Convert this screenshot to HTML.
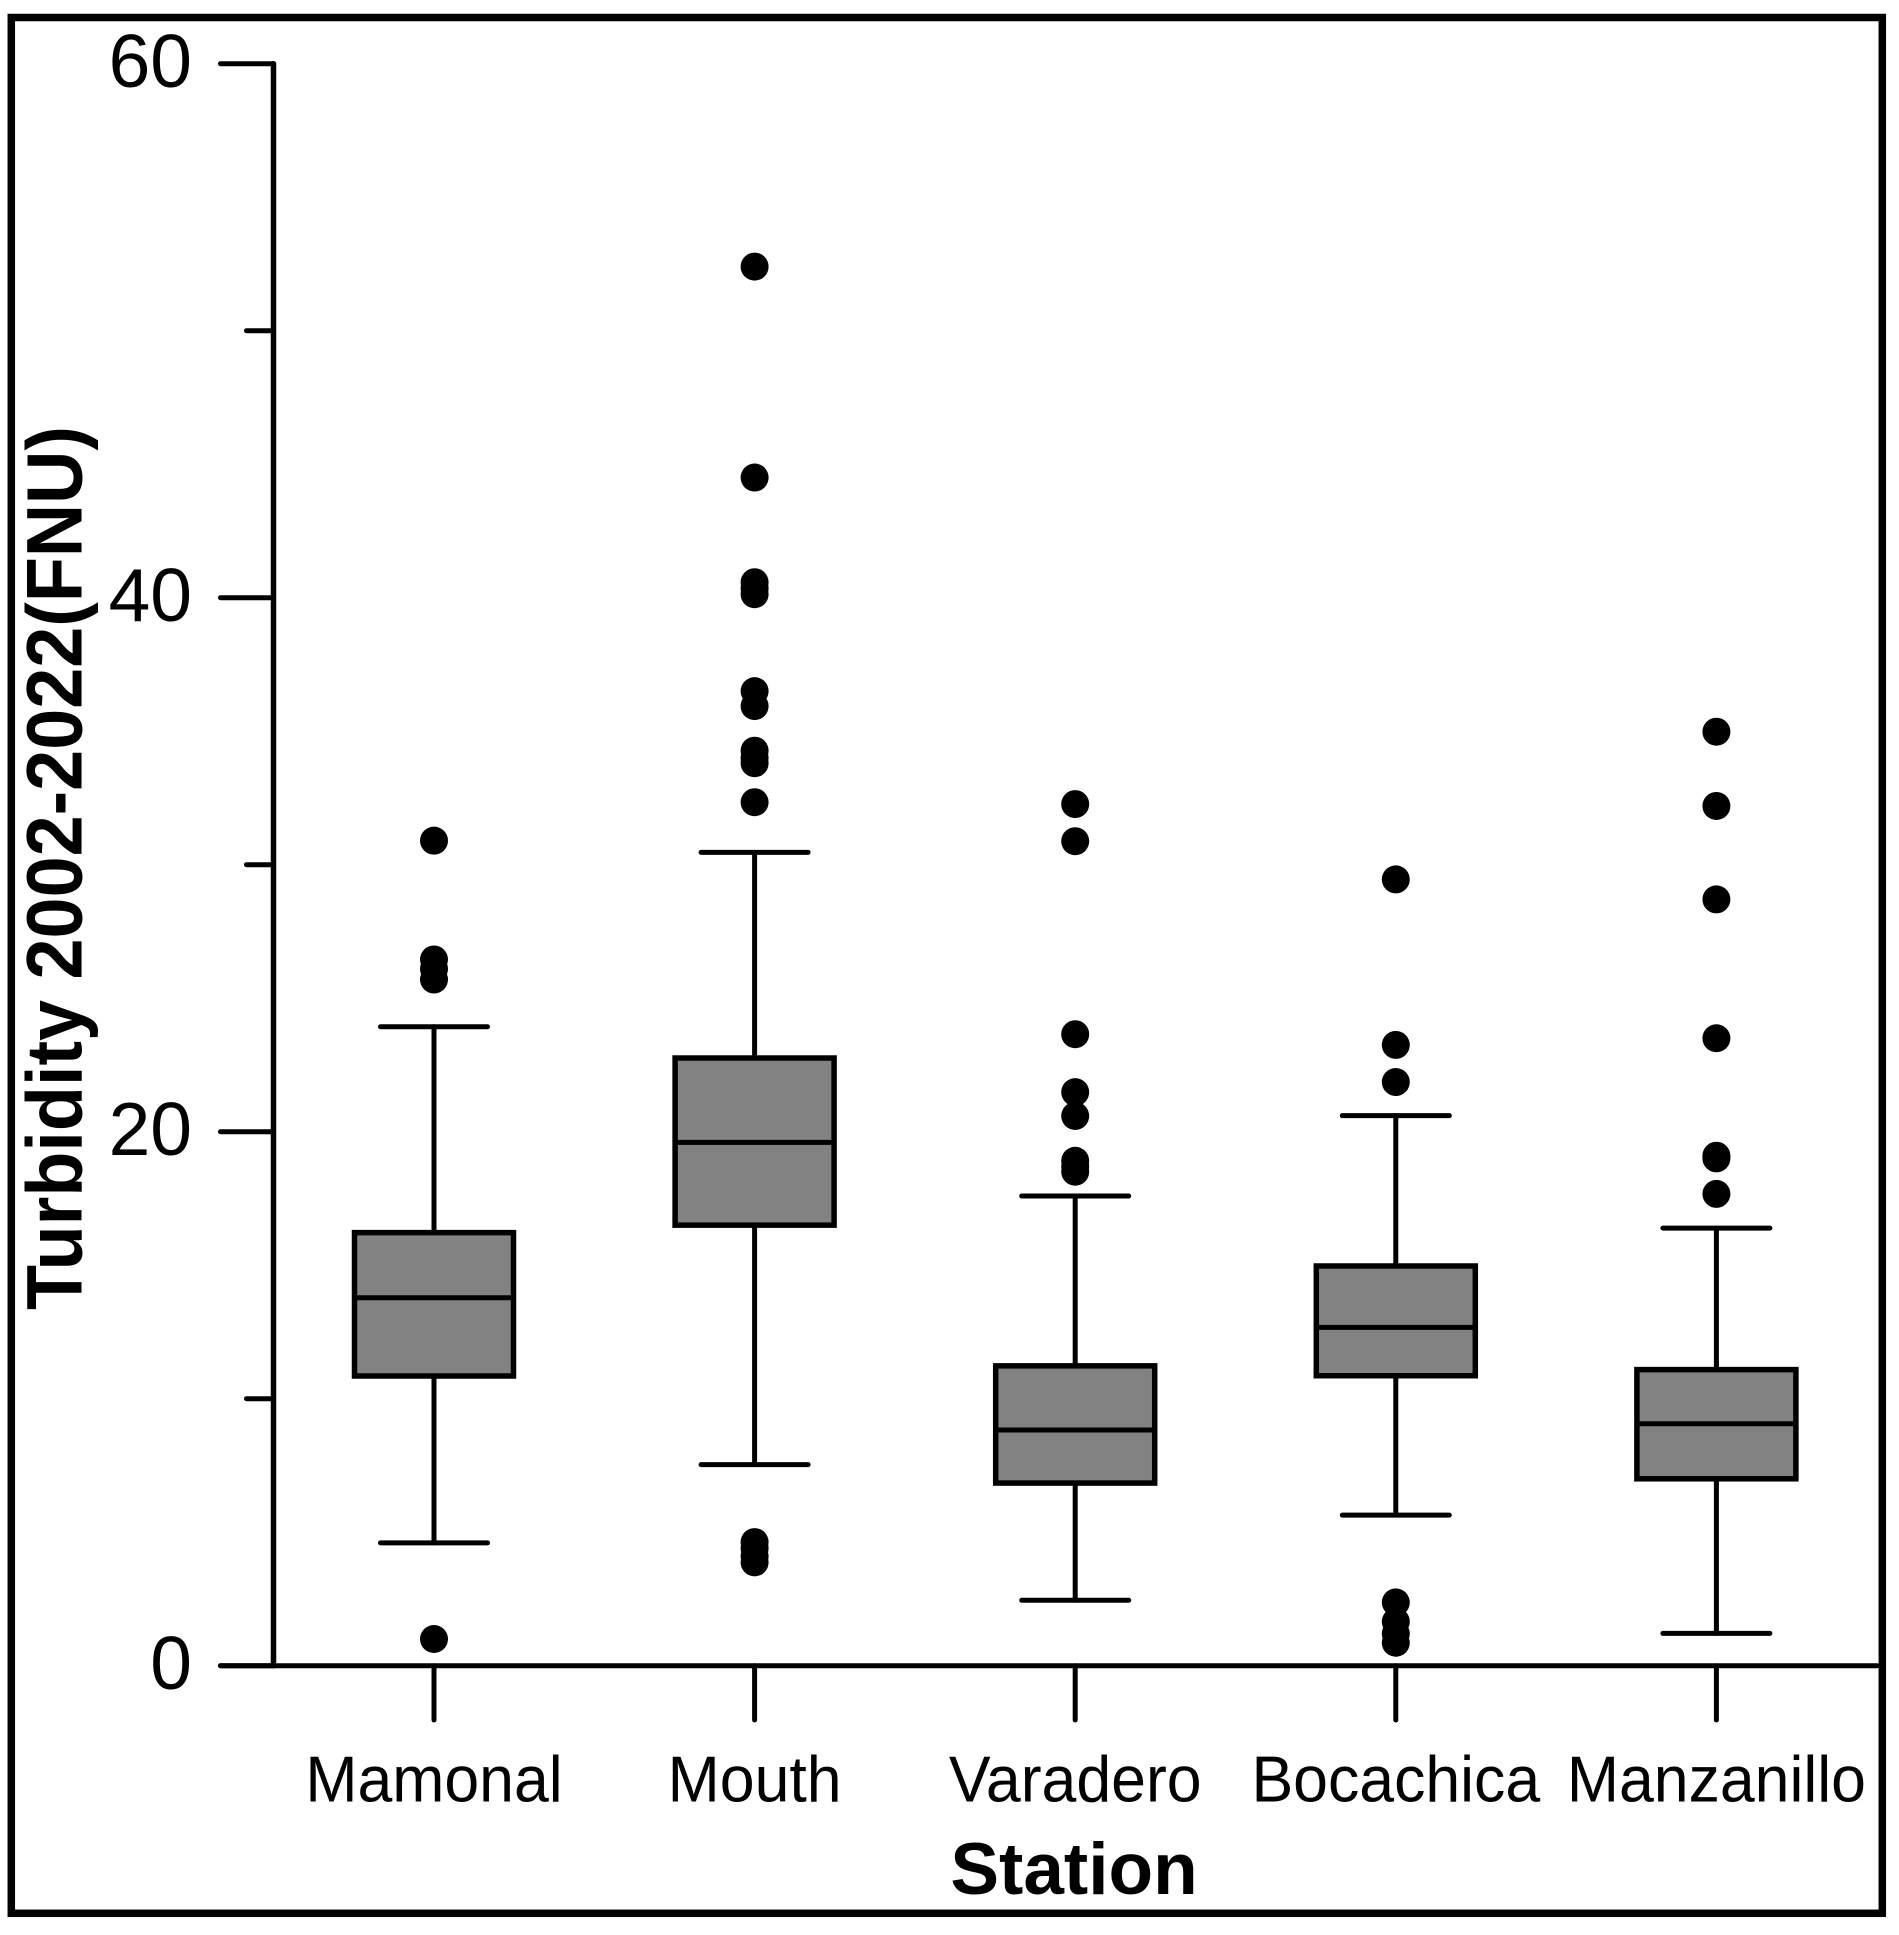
<!DOCTYPE html>
<html lang="en">
<head>
<meta charset="utf-8">
<title>Turbidity by station</title>
<style>
  html, body { margin: 0; padding: 0; background: #fff; }
  svg { display: block; font-family: "Liberation Sans", sans-serif; }
</style>
</head>
<body>
<svg id="chart" xmlns="http://www.w3.org/2000/svg" width="1899" height="1935" viewBox="0 0 1899 1935">
  <rect x="0" y="0" width="1899" height="1935" fill="#ffffff"/>
  <rect x="11.3" y="17.5" width="1871" height="1895.8" fill="none" stroke="#000" stroke-width="7.5"/>
  <g id="axes"></g>
  <g id="boxes"></g>
  <text transform="translate(81.5,868) rotate(-90)" text-anchor="middle" font-size="79" font-weight="bold" textLength="884" lengthAdjust="spacingAndGlyphs">Turbidity 2002-2022(FNU)</text>
  <text x="1074" y="1894" text-anchor="middle" font-size="73" font-weight="bold">Station</text>
</svg>
<script>
const categories = ["Mamonal", "Mouth", "Varadero", "Bocachica", "Manzanillo"];
const whiskerHigh = [23.93, 30.46, 17.59, 20.6, 16.39];
const q3Values = [16.22, 22.76, 11.23, 14.97, 11.09];
const medians = [13.78, 19.6, 8.83, 12.67, 9.06];
const q1Values = [10.85, 16.5, 6.84, 10.86, 7.0];
const whiskerLow = [4.6, 7.53, 2.45, 5.64, 1.21];
const outliersMamonal = [30.9, 26.45, 26.1, 25.7, 1.0];
const outliersMouth = [52.4, 44.5, 40.58, 40.35, 40.13, 36.5, 35.94, 34.27, 34.0, 33.8, 32.34, 4.63, 4.4, 4.1, 3.87];
const outliersVaradero = [32.27, 30.88, 23.65, 21.48, 20.59, 18.91, 18.7, 18.5];
const outliersBocachica = [29.45, 23.25, 21.86, 2.37, 1.65, 1.2, 0.86];
const outliersManzanillo = [34.98, 32.2, 28.7, 23.5, 19.1, 19.0, 17.67];
const outliers = [outliersMamonal, outliersMouth, outliersVaradero, outliersBocachica, outliersManzanillo];
const majorTicks = [0, 20, 40, 60];
const minorTicks = [10, 30, 50];

const SVGNS = "http://www.w3.org/2000/svg";
const Y0 = 1665.7, PX_PER_UNIT = 26.7;
const X0 = 434, X_STEP = 320.6;
const BOX_HALF = 79.5, CAP_HALF = 53.5;
const yScale = v => Y0 - v * PX_PER_UNIT;
const xScale = i => X0 + i * X_STEP;

function make(tag, attrs, parent) {
  const el = document.createElementNS(SVGNS, tag);
  for (const k in attrs) el.setAttribute(k, attrs[k]);
  parent.appendChild(el);
  return el;
}
function lineAttrs(x1, y1, x2, y2, w) {
  return { x1, y1, x2, y2, stroke: "#000", "stroke-width": w, "stroke-linecap": "round" };
}

const axes = document.getElementById("axes");
const boxes = document.getElementById("boxes");

const yAxis = make("line", lineAttrs(273.5, yScale(60), 273.5, yScale(0), 5.5), axes);



const xAxis = make("line", lineAttrs(220.5, yScale(0), 1877, yScale(0), 5), axes);



majorTicks.forEach(v => {
  const tick = make("line", lineAttrs(220.5, yScale(v), 273.5, yScale(v), 5), axes);
  
  
  const label = make("text", { x: 192, y: yScale(v) + 23.5, "text-anchor": "end", "font-size": 75 }, axes);
  
  
  label.textContent = String(v);
});

minorTicks.forEach(v => {
  const tick = make("line", lineAttrs(246.5, yScale(v), 273.5, yScale(v), 5), axes);
  
  
});

categories.forEach((name, i) => {
  const cx = xScale(i);

  const xTick = make("line", lineAttrs(cx, yScale(0), cx, 1720, 5), axes);
  
  

  const xLabel = make("text", { transform: "translate(" + cx + ",1801.5) scale(0.96,1)", "text-anchor": "middle", "font-size": 65.2 }, axes);
  
  
  xLabel.textContent = name;

  const group = make("g", {}, boxes);
  
  

  const stem = make("line", lineAttrs(cx, yScale(whiskerHigh[i]), cx, yScale(whiskerLow[i]), 5), group);
  
  

  const capHigh = make("line", lineAttrs(cx - CAP_HALF, yScale(whiskerHigh[i]), cx + CAP_HALF, yScale(whiskerHigh[i]), 5), group);
  
  

  const capLow = make("line", lineAttrs(cx - CAP_HALF, yScale(whiskerLow[i]), cx + CAP_HALF, yScale(whiskerLow[i]), 5), group);
  
  

  const box = make("rect", {
    x: cx - BOX_HALF, y: yScale(q3Values[i]),
    width: BOX_HALF * 2, height: yScale(q1Values[i]) - yScale(q3Values[i]),
    fill: "#828282", stroke: "#000", "stroke-width": 5.5
  }, group);
  
  

  const median = make("line", { x1: cx - BOX_HALF, y1: yScale(medians[i]), x2: cx + BOX_HALF, y2: yScale(medians[i]), stroke: "#000", "stroke-width": 5 }, group);
  
  

  outliers[i].forEach(v => {
    const dot = make("circle", { cx, cy: yScale(v), r: 14, fill: "#000" }, group);
    
    
  });
});
</script>
</body>
</html>
